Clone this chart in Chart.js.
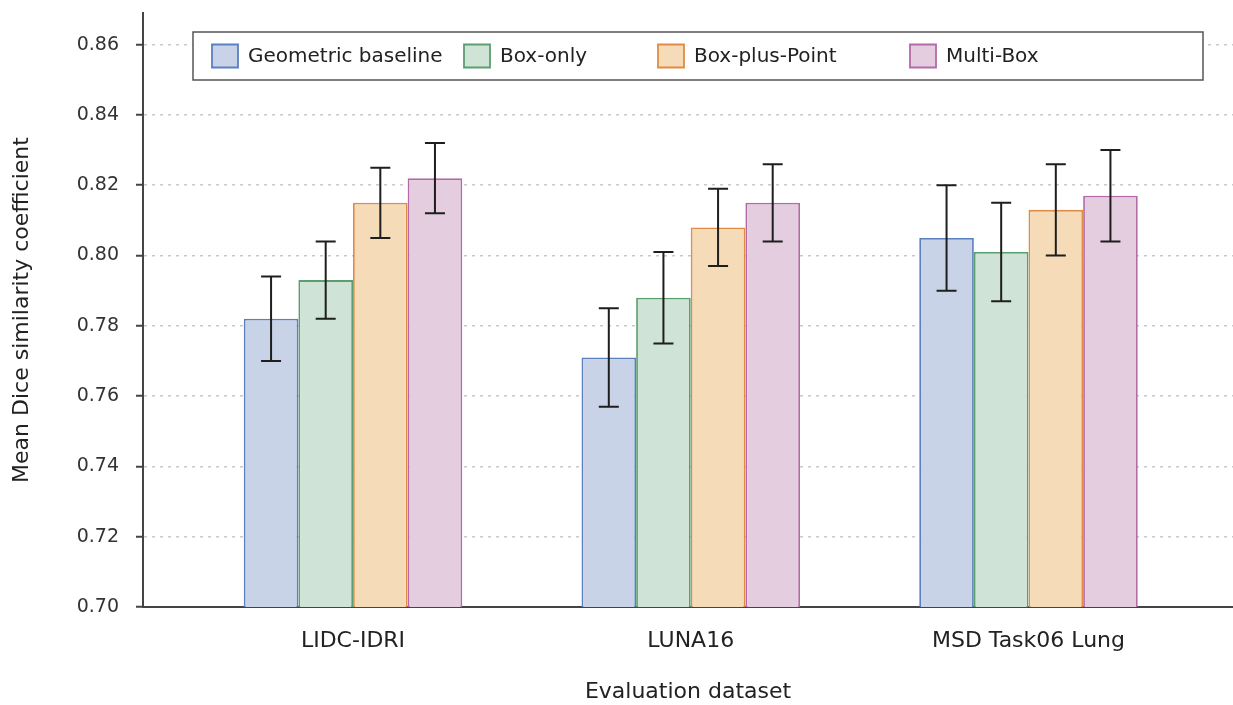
<!DOCTYPE html>
<html>
<head>
<meta charset="utf-8">
<script src="https://cdn.jsdelivr.net/npm/chart.js@4.4.1/dist/chart.umd.min.js"></script>
<style>
  html, body { margin: 0; padding: 0; background: #ffffff; }
  #wrap { width: 1233px; height: 705px; }
</style>
</head>
<body>
<div id="wrap"><canvas id="c" width="1233" height="705"></canvas></div>
<script>
// ---- data ----
const categories = ["LIDC-IDRI", "LUNA16", "MSD Task06 Lung"];
const seriesNames = ["Geometric baseline", "Box-only", "Box-plus-Point", "Multi-Box"];
const geometricBaseline = [0.782, 0.771, 0.805];
const geometricBaselineErr = [0.012, 0.014, 0.015];
const boxOnly = [0.793, 0.788, 0.801];
const boxOnlyErr = [0.011, 0.013, 0.014];
const boxPlusPoint = [0.815, 0.808, 0.813];
const boxPlusPointErr = [0.010, 0.011, 0.013];
const multiBox = [0.822, 0.815, 0.817];
const multiBoxErr = [0.010, 0.011, 0.013];
const yTickValues = [0.70, 0.72, 0.74, 0.76, 0.78, 0.80, 0.82, 0.84, 0.86];

// ---- styles ----
const FONT = "'DejaVu Sans', 'Liberation Sans', Arial, sans-serif";
const fills = ["#c8d3e8", "#cfe3d6", "#f5dbb7", "#e3cddf"];
const borders = ["#5a80c0", "#5b9e70", "#e08c45", "#b36aa8"];
const seriesValues = [geometricBaseline, boxOnly, boxPlusPoint, multiBox];
const seriesErrors = [geometricBaselineErr, boxOnlyErr, boxPlusPointErr, multiBoxErr];

const datasets = seriesNames.map((name, s) => ({
  label: name,
  data: categories.map((c, i) => ({ x: i, y: seriesValues[s][i] })),
  errors: seriesErrors[s],
  backgroundColor: fills[s],
  borderColor: borders[s],
  borderWidth: 1.8,
  borderSkipped: false,
  categoryPercentage: 0.647,
  barPercentage: 1.0
}));

const errorBarPlugin = {
  id: 'errorBars',
  afterDatasetsDraw(chart) {
    const ctx = chart.ctx;
    const yScale = chart.scales.y;
    ctx.save();
    ctx.strokeStyle = '#1e1e1e';
    ctx.lineWidth = 2;
    chart.data.datasets.forEach((ds, di) => {
      const meta = chart.getDatasetMeta(di);
      meta.data.forEach((bar, i) => {
        const v = ds.data[i].y, e = ds.errors[i];
        const yt = yScale.getPixelForValue(v + e);
        const yb = yScale.getPixelForValue(v - e);
        const x = bar.x, hw = 10;
        ctx.beginPath();
        ctx.moveTo(x, yt); ctx.lineTo(x, yb);
        ctx.moveTo(x - hw, yt); ctx.lineTo(x + hw, yt);
        ctx.moveTo(x - hw, yb); ctx.lineTo(x + hw, yb);
        ctx.stroke();
      });
    });
    ctx.restore();
  }
};

const legendPlugin = {
  id: 'boxLegend',
  afterDraw(chart) {
    const ctx = chart.ctx;
    ctx.save();
    ctx.fillStyle = '#ffffff';
    ctx.fillRect(193, 32, 1010, 48);
    ctx.strokeStyle = '#555555';
    ctx.lineWidth = 1.5;
    ctx.strokeRect(193, 32, 1010, 48);
    const xs = [212, 464, 658, 910];
    ctx.font = "20px " + FONT;
    ctx.textBaseline = 'middle';
    ctx.textAlign = 'left';
    chart.data.datasets.forEach((ds, i) => {
      const x = xs[i], y = 56;
      ctx.fillStyle = ds.backgroundColor;
      ctx.strokeStyle = ds.borderColor;
      ctx.lineWidth = 1.8;
      ctx.beginPath();
      ctx.rect(x, y - 11.5, 26, 23);
      ctx.fill();
      ctx.stroke();
      ctx.fillStyle = '#222222';
      ctx.fillText(ds.label, x + 36, y + 1);
    });
    ctx.restore();
  }
};

new Chart(document.getElementById('c'), {
  type: 'bar',
  data: { datasets },
  options: {
    responsive: false,
    animation: false,
    layout: { padding: { top: 13, right: 0, left: 0, bottom: 0 } },
    plugins: { legend: { display: false }, tooltip: { enabled: false } },
    scales: {
      x: {
        type: 'linear',
        min: -0.6218,
        max: 2.6055,
        offset: false,
        afterBuildTicks: (scale) => { scale.ticks = categories.map((c, i) => ({ value: i })); },
        afterFit: (scale) => { scale.height = 98; scale.paddingLeft = 0; scale.paddingRight = 0; },
        ticks: {
          autoSkip: false, maxRotation: 0, padding: 21,
          color: '#222222',
          font: { family: FONT, size: 22 },
          callback: (v) => categories[v]
        },
        grid: { display: false, drawTicks: false, drawOnChartArea: false },
        border: { display: true, color: '#444444', width: 2 },
        title: {
          display: true, text: 'Evaluation dataset', color: '#222222',
          font: { family: FONT, size: 22 }, padding: { top: 0, bottom: 0 }
        }
      },
      y: {
        min: 0.70,
        max: 0.869,
        afterBuildTicks: (scale) => { scale.ticks = yTickValues.map(v => ({ value: v })); },
        afterFit: (scale) => { scale.width = 143; scale.paddingTop = 0; scale.paddingBottom = 0; },
        ticks: {
          padding: 17, color: '#333333',
          font: { family: FONT, size: 19 },
          callback: (v) => Number(v).toFixed(2)
        },
        grid: {
          color: (c) => (c.tick && Math.abs(c.tick.value - 0.70) < 1e-9) ? 'rgba(0,0,0,0)' : '#c8c8c8',
          lineWidth: 1.5,
          drawTicks: true,
          tickLength: 7,
          tickColor: '#444444',
          tickWidth: 2,
          tickBorderDash: []
        },
        border: { display: true, color: '#444444', width: 2, dash: [3, 5] },
        title: {
          display: true, text: 'Mean Dice similarity coefficient', color: '#222222',
          font: { family: FONT, size: 22 }, padding: { top: 9, bottom: 0 }
        }
      }
    }
  },
  plugins: [errorBarPlugin, legendPlugin]
});
</script>
</body>
</html>
